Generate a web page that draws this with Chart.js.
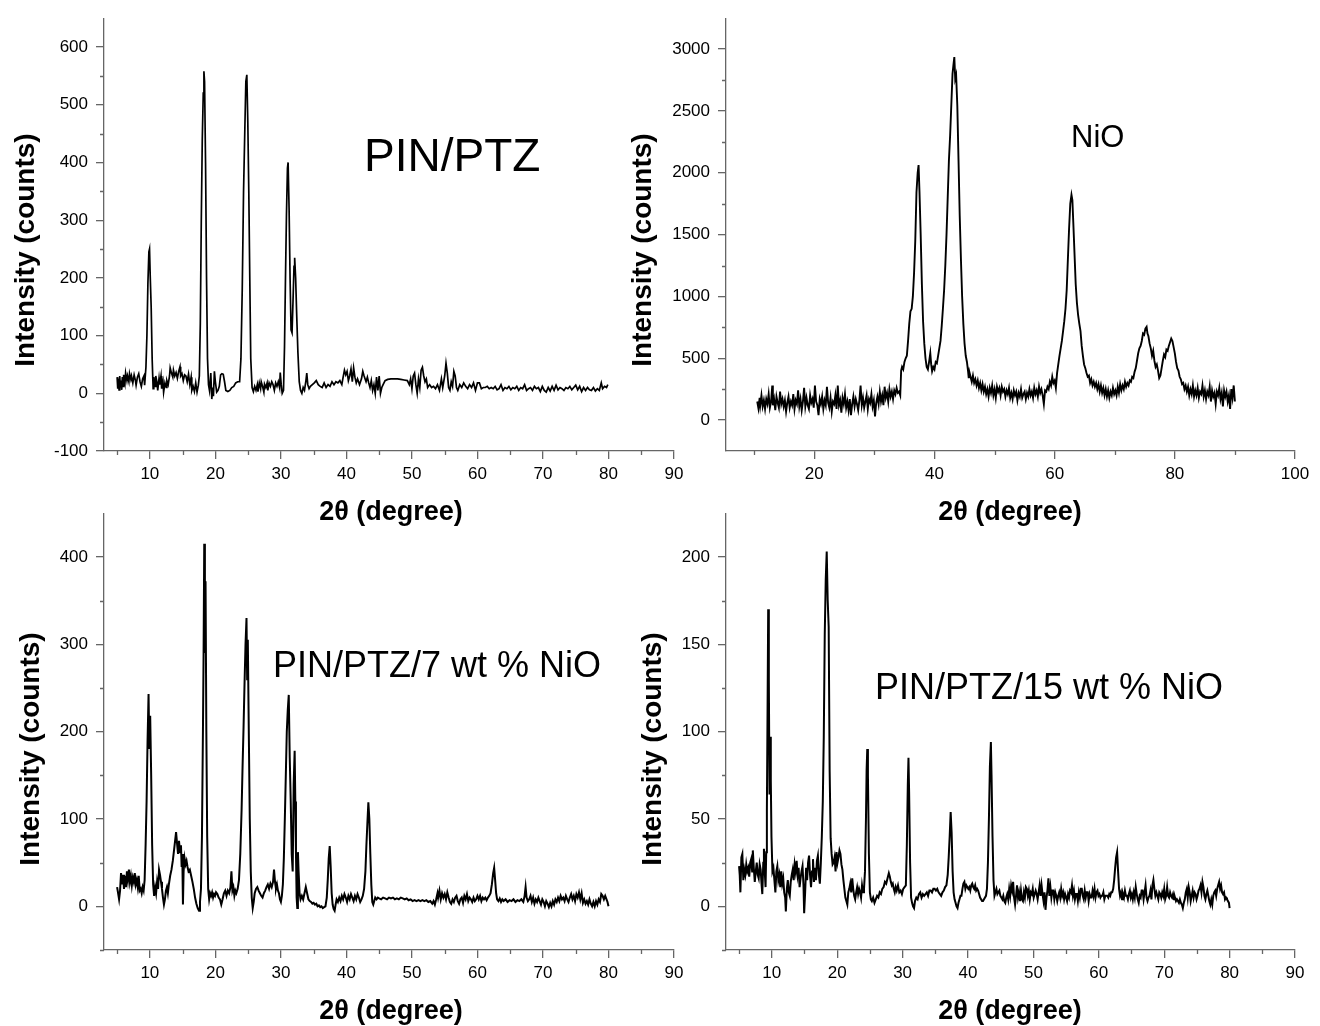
<!DOCTYPE html>
<html>
<head>
<meta charset="utf-8">
<script src="https://cdn.jsdelivr.net/npm/chart.js@4.4.0/dist/chart.umd.min.js"></script>
<style>
  html, body { margin: 0; padding: 0; background: #fff; }
  #page { position: relative; width: 1320px; height: 1026px; overflow: hidden; background: #fff; }
  #page canvas { position: absolute; }
</style>
</head>
<body>
<div id="page">
  <canvas id="c1" width="700" height="530" style="left:0px;top:0px"></canvas>
  <canvas id="c2" width="700" height="530" style="left:620px;top:0px"></canvas>
  <canvas id="c3" width="700" height="531" style="left:0px;top:495px"></canvas>
  <canvas id="c4" width="700" height="531" style="left:620px;top:495px"></canvas>
</div>
<script>
// --- scans: [2theta, counts] ---
const ptzScan = [
  [5.0,28],[5.1,8],[5.2,25],[5.3,6],[5.4,30],[5.5,10],[5.6,22],[5.7,6],[5.8,28],[5.9,12],
  [6.0,32],[6.2,18],[6.3,35],[6.5,22],[6.6,30],[6.8,20],[6.9,34],[7.1,24],[7.2,30],[7.4,18],
  [7.6,32],[7.8,22],[7.9,14],[8.1,28],[8.3,34],[8.5,20],[8.7,12],[8.9,25],[9.1,30],[9.2,14],
  [9.4,45],[9.55,100],[9.7,190],[9.85,245],[9.95,250],[10.05,205],[10.2,150],[10.35,60],[10.5,8],
  [10.6,28],[10.8,12],[10.9,30],[11.1,18],[11.2,5],[11.4,26],[11.5,15],[11.7,30],[11.8,8],[12.0,20],
  [12.1,2],[12.3,18],[12.5,10],[12.6,22],[12.8,15],[13.0,30],[13.1,44],[13.3,35],[13.5,28],[13.6,40],
  [13.8,30],[14.0,36],[14.2,26],[14.4,38],[14.6,46],[14.7,30],[14.9,34],[15.1,22],[15.3,32],[15.5,30],
  [15.7,20],[15.9,33],[16.1,15],[16.3,28],[16.4,5],[16.6,12],[16.8,3],[17.0,18],[17.2,2],[17.4,14],
  [17.55,30],[17.7,120],[17.85,300],[18.0,440],[18.15,520],[18.25,558],[18.35,540],[18.5,400],
  [18.65,200],[18.8,60],[18.95,15],[19.1,5],[19.3,35],[19.45,-10],[19.6,10],[19.7,-5],[19.85,38],
  [20.0,20],[20.2,2],[20.4,5],[20.6,12],[20.8,32],[21.0,34],[21.2,33],[21.4,20],[21.6,5],[21.9,3],
  [22.2,5],[22.5,10],[22.8,12],[23.1,18],[23.4,20],[23.7,20],[23.9,60],[24.1,180],[24.3,350],
  [24.5,460],[24.65,540],[24.8,552],[24.95,470],[25.1,350],[25.25,200],[25.4,60],[25.6,10],[25.8,3],
  [26.0,12],[26.2,5],[26.4,15],[26.5,3],[26.7,18],[26.9,8],[27.0,20],[27.2,12],[27.4,2],[27.5,16],
  [27.7,10],[27.9,18],[28.0,5],[28.2,18],[28.4,12],[28.6,20],[28.8,15],[29.0,5],[29.2,18],[29.4,12],
  [29.6,20],[29.8,10],[29.9,36],[30.05,15],[30.2,0],[30.4,5],[30.55,80],[30.7,200],[30.85,310],
  [31.0,390],[31.1,400],[31.25,320],[31.4,200],[31.55,110],[31.7,105],[31.85,160],[32.0,220],
  [32.1,235],[32.25,200],[32.4,140],[32.6,70],[32.8,20],[33.0,5],[33.2,0],[33.4,10],[33.6,5],
  [33.8,20],[33.95,35],[34.1,15],[34.3,8],[34.5,12],[34.8,15],[35.1,18],[35.4,22],[35.7,15],
  [36.0,12],[36.3,10],[36.6,18],[36.9,10],[37.2,15],[37.5,12],[37.8,20],[38.1,15],[38.4,20],
  [38.7,18],[39.0,22],[39.3,15],[39.5,28],[39.7,40],[39.9,32],[40.1,38],[40.3,22],[40.5,30],
  [40.7,42],[40.9,20],[41.1,44],[41.3,28],[41.5,18],[41.7,25],[42.0,15],[42.3,25],[42.5,38],
  [42.7,30],[43.0,20],[43.2,28],[43.4,18],[43.6,10],[43.8,22],[44.0,5],[44.2,15],[44.4,0],
  [44.6,28],[44.8,5],[45.0,30],[45.2,0],[45.4,10],[45.6,15],[45.9,22],[46.3,24],[46.8,25],
  [47.3,25],[47.8,25],[48.3,24],[48.8,23],[49.3,22],[49.6,15],[49.8,25],[50.0,8],[50.2,30],
  [50.4,35],[50.6,15],[50.8,0],[51.0,25],[51.2,10],[51.4,40],[51.6,45],[51.8,30],[52.0,20],
  [52.2,25],[52.4,10],[52.7,15],[53.0,10],[53.3,12],[53.6,8],[53.9,15],[54.2,5],[54.5,25],
  [54.7,10],[55.0,30],[55.2,52],[55.4,35],[55.6,10],[55.8,5],[56.0,20],[56.2,12],[56.4,38],
  [56.6,30],[56.8,10],[57.0,5],[57.3,15],[57.6,10],[57.9,18],[58.2,12],[58.5,8],[58.8,15],
  [59.1,10],[59.4,18],[59.7,5],[60.0,18],[60.3,18],[60.6,8],[60.9,10],[61.2,10],[61.5,12],
  [61.8,8],[62.1,10],[62.4,8],[62.7,12],[63.0,6],[63.3,8],[63.6,15],[63.9,5],[64.2,10],[64.5,8],
  [64.8,12],[65.1,6],[65.4,10],[65.7,8],[66.0,12],[66.3,5],[66.6,10],[66.9,8],[67.2,15],[67.5,5],
  [67.8,8],[68.1,10],[68.4,5],[68.7,12],[69.0,8],[69.3,10],[69.6,3],[69.9,12],[70.2,5],[70.5,2],
  [70.8,10],[71.1,4],[71.4,12],[71.7,5],[72.0,14],[72.3,6],[72.6,10],[72.9,8],[73.2,5],[73.5,10],
  [73.8,8],[74.1,12],[74.4,6],[74.7,10],[75.0,14],[75.3,6],[75.6,12],[75.9,3],[76.2,10],[76.5,5],
  [76.8,10],[77.1,6],[77.4,5],[77.7,10],[78.0,4],[78.3,8],[78.6,5],[78.9,18],[79.1,8],[79.4,12],
  [79.7,10],[79.9,15]
];

const nioScan = [
  [10.5,150],[10.7,95],[10.9,180],[11.0,120],[11.2,200],[11.4,110],[11.6,160],[11.8,90],[12.0,170],
  [12.2,130],[12.4,210],[12.6,100],[12.8,150],[13.0,280],[13.1,120],[13.3,170],[13.5,80],[13.7,190],
  [13.9,140],[14.1,100],[14.3,230],[14.5,130],[14.7,170],[14.9,110],[15.1,160],[15.3,70],[15.5,140],
  [15.7,190],[15.9,100],[16.1,150],[16.3,120],[16.5,210],[16.7,90],[16.9,160],[17.1,130],[17.3,240],
  [17.5,110],[17.7,170],[17.9,80],[18.1,150],[18.3,260],[18.5,110],[18.7,180],[18.9,120],[19.1,90],
  [19.3,200],[19.5,140],[19.7,170],[19.9,100],[20.1,280],[20.3,150],[20.5,120],[20.7,40],[20.9,170],
  [21.1,130],[21.3,190],[21.5,90],[21.7,160],[21.9,120],[22.1,270],[22.3,140],[22.5,100],[22.7,180],
  [22.9,70],[23.1,150],[23.3,130],[23.5,200],[23.7,90],[23.9,280],[24.1,120],[24.3,160],[24.5,60],
  [24.7,180],[24.9,130],[25.1,210],[25.3,100],[25.5,150],[25.7,80],[25.9,170],[26.1,40],[26.3,130],
  [26.5,190],[26.7,110],[26.9,170],[27.1,130],[27.3,80],[27.5,160],[27.7,280],[27.9,120],[28.1,180],
  [28.3,100],[28.5,150],[28.7,200],[28.9,90],[29.1,170],[29.3,140],[29.5,210],[29.7,110],[29.9,160],
  [30.1,30],[30.3,140],[30.5,190],[30.7,130],[30.9,230],[31.1,150],[31.3,200],[31.5,120],[31.7,270],
  [31.9,180],[32.1,220],[32.3,150],[32.5,250],[32.7,190],[32.9,230],[33.1,170],[33.3,240],[33.5,210],
  [33.7,260],[33.9,220],[34.1,230],[34.3,200],[34.45,400],[34.6,430],[34.8,410],[35.0,470],[35.2,500],
  [35.4,520],[35.6,640],[35.8,780],[36.0,880],[36.2,900],[36.4,1000],[36.6,1190],[36.8,1450],
  [37.0,1840],[37.2,2000],[37.35,2062],[37.5,1850],[37.7,1500],[37.9,1100],[38.1,800],[38.3,620],
  [38.5,500],[38.7,430],[38.9,410],[39.1,470],[39.3,540],[39.45,450],[39.6,395],[39.8,430],[40.0,410],
  [40.2,470],[40.4,460],[40.6,520],[40.8,580],[41.0,640],[41.2,760],[41.4,900],[41.6,1050],[41.8,1250],
  [42.0,1500],[42.2,1800],[42.4,2100],[42.6,2300],[42.8,2550],[43.0,2800],[43.15,2870],[43.3,2935],
  [43.45,2760],[43.6,2790],[43.8,2540],[44.0,2100],[44.2,1650],[44.4,1300],[44.6,1000],[44.8,780],
  [45.0,620],[45.2,520],[45.4,470],[45.6,390],[45.7,340],[45.8,390],[46.0,350],[46.2,310],[46.4,360],
  [46.6,300],[46.8,330],[47.0,280],[47.2,320],[47.4,260],[47.6,300],[47.8,240],[48.0,290],[48.2,230],
  [48.4,270],[48.6,210],[48.8,250],[49.0,190],[49.2,260],[49.4,220],[49.6,280],[49.8,200],[50.0,250],
  [50.2,180],[50.4,270],[50.6,230],[50.8,260],[51.0,200],[51.2,270],[51.4,230],[51.6,250],[51.8,190],
  [52.0,240],[52.2,210],[52.4,260],[52.6,180],[52.8,220],[53.0,170],[53.2,240],[53.4,200],[53.6,230],
  [53.8,160],[54.0,220],[54.2,190],[54.4,250],[54.6,180],[54.8,210],[55.0,230],[55.2,170],[55.4,220],
  [55.6,190],[55.8,250],[56.0,200],[56.2,230],[56.4,180],[56.6,260],[56.8,210],[57.0,240],[57.2,190],
  [57.4,270],[57.6,220],[57.8,250],[58.0,200],[58.2,130],[58.4,240],[58.6,230],[58.8,270],[59.0,250],
  [59.2,310],[59.4,280],[59.6,350],[59.8,300],[60.0,320],[60.2,260],[60.4,380],[60.6,450],[60.8,520],
  [61.0,580],[61.2,640],[61.4,720],[61.6,800],[61.8,900],[62.0,1050],[62.2,1300],[62.4,1550],
  [62.6,1750],[62.8,1822],[62.95,1780],[63.1,1600],[63.3,1350],[63.5,1100],[63.7,950],[63.9,850],
  [64.1,780],[64.3,720],[64.5,600],[64.7,520],[64.9,450],[65.1,420],[65.3,380],[65.5,350],[65.7,360],
  [65.9,300],[66.1,330],[66.3,280],[66.5,310],[66.7,270],[66.9,300],[67.1,250],[67.3,290],[67.5,230],
  [67.7,280],[67.9,220],[68.1,260],[68.3,200],[68.5,250],[68.7,190],[68.9,240],[69.1,180],[69.3,230],
  [69.5,200],[69.7,260],[69.9,210],[70.1,240],[70.3,200],[70.5,270],[70.7,220],[70.9,290],[71.1,240],
  [71.3,280],[71.5,250],[71.7,310],[71.9,270],[72.1,300],[72.3,280],[72.5,320],[72.7,310],[72.9,350],
  [73.1,340],[73.3,390],[73.5,420],[73.7,480],[73.9,540],[74.1,580],[74.3,600],[74.5,640],[74.7,700],
  [74.9,690],[75.1,740],[75.3,754],[75.45,700],[75.6,680],[75.8,620],[76.0,580],[76.2,520],[76.4,560],
  [76.6,480],[76.8,430],[77.0,450],[77.2,400],[77.4,340],[77.6,360],[77.8,420],[78.0,480],[78.2,530],
  [78.4,510],[78.6,570],[78.8,560],[79.0,600],[79.2,630],[79.4,660],[79.6,640],[79.8,590],[80.0,540],
  [80.2,470],[80.4,420],[80.6,400],[80.8,350],[81.0,330],[81.2,290],[81.4,300],[81.6,250],[81.8,280],
  [82.0,230],[82.2,270],[82.4,200],[82.6,250],[82.8,210],[83.0,280],[83.2,190],[83.4,240],[83.6,200],
  [83.8,260],[84.0,180],[84.2,230],[84.4,210],[84.6,280],[84.8,190],[85.0,240],[85.2,170],[85.4,230],
  [85.6,200],[85.8,270],[86.0,150],[86.2,240],[86.4,190],[86.6,220],[86.8,130],[87.0,230],[87.2,200],
  [87.4,260],[87.6,170],[87.8,220],[88.0,110],[88.2,240],[88.4,190],[88.6,230],[88.8,150],[89.0,200],
  [89.2,90],[89.4,250],[89.6,180],[89.8,280],[90.0,150]
];

const nio7Scan = [
  [5.0,22],[5.15,15],[5.3,8],[5.45,18],[5.6,38],[5.75,25],[5.9,36],[6.05,20],[6.2,35],[6.35,22],
  [6.5,40],[6.65,30],[6.8,42],[6.95,28],[7.1,35],[7.25,24],[7.4,33],[7.55,28],[7.7,38],[7.85,25],
  [8.0,30],[8.15,22],[8.3,35],[8.45,18],[8.6,20],[8.75,15],[8.9,22],[9.05,18],[9.2,30],[9.35,70],
  [9.5,120],[9.65,190],[9.8,243],[9.92,180],[10.05,218],[10.2,150],[10.35,70],[10.5,25],[10.65,12],
  [10.8,22],[10.95,15],[11.1,28],[11.25,20],[11.4,42],[11.55,36],[11.7,28],[11.85,20],[12.0,10],
  [12.15,2],[12.3,8],[12.45,18],[12.6,22],[12.75,15],[12.9,25],[13.1,35],[13.3,42],[13.5,52],
  [13.7,65],[13.85,75],[14.0,85],[14.15,72],[14.3,60],[14.45,75],[14.6,62],[14.75,70],[14.85,45],
  [14.95,60],[15.05,2],[15.15,40],[15.3,55],[15.45,48],[15.6,52],[15.75,45],[15.9,40],[16.1,42],
  [16.3,35],[16.5,28],[16.7,20],[16.9,10],[17.1,3],[17.3,-2],[17.5,-5],[17.65,5],[17.8,20],[17.95,80],
  [18.1,200],[18.2,290],[18.3,415],[18.4,290],[18.5,372],[18.62,200],[18.75,80],[18.9,20],[19.05,8],
  [19.2,15],[19.35,12],[19.5,16],[19.65,10],[19.8,14],[19.95,12],[20.1,16],[20.3,14],[20.5,10],
  [20.7,8],[20.9,2],[21.1,8],[21.3,15],[21.5,18],[21.7,12],[21.9,18],[22.1,15],[22.3,22],[22.45,40],
  [22.6,18],[22.75,22],[22.9,12],[23.05,18],[23.2,15],[23.4,20],[23.6,30],[23.8,60],[24.0,110],
  [24.15,160],[24.3,205],[24.45,255],[24.6,300],[24.75,330],[24.85,260],[24.95,305],[25.1,200],
  [25.25,100],[25.4,40],[25.55,10],[25.7,-2],[25.85,5],[26.0,15],[26.2,20],[26.4,22],[26.6,18],
  [26.8,15],[27.0,12],[27.2,10],[27.4,15],[27.6,18],[27.8,22],[28.0,25],[28.2,20],[28.4,26],[28.6,22],
  [28.8,28],[28.95,42],[29.1,28],[29.25,20],[29.4,25],[29.55,18],[29.7,15],[29.85,8],[30.0,5],
  [30.15,12],[30.3,25],[30.45,55],[30.6,100],[30.75,150],[30.9,200],[31.05,225],[31.2,242],[31.35,170],
  [31.5,120],[31.65,60],[31.8,40],[31.95,140],[32.1,178],[32.2,120],[32.3,60],[32.4,10],[32.5,-2],
  [32.6,62],[32.7,40],[32.85,15],[33.0,8],[33.2,12],[33.4,8],[33.6,15],[33.8,22],[34.0,15],[34.2,8],
  [34.4,6],[34.6,5],[34.8,3],[35.0,4],[35.2,2],[35.4,3],[35.6,0],[35.8,1],[36.0,-1],[36.2,0],
  [36.4,-2],[36.6,-1],[36.8,0],[37.0,10],[37.15,30],[37.3,55],[37.45,69],[37.6,45],[37.75,15],
  [37.9,2],[38.05,-3],[38.2,-5],[38.35,2],[38.5,8],[38.7,5],[38.9,10],[39.1,6],[39.3,12],[39.5,8],
  [39.7,14],[39.9,10],[40.1,5],[40.3,12],[40.5,8],[40.7,14],[40.9,10],[41.1,6],[41.3,12],[41.5,8],
  [41.7,14],[41.9,10],[42.1,5],[42.3,8],[42.5,12],[42.7,20],[42.9,40],[43.05,70],[43.2,95],
  [43.35,119],[43.5,100],[43.65,60],[43.8,25],[43.95,5],[44.1,2],[44.25,6],[44.4,10],[44.6,8],
  [44.8,10],[45.0,9],[45.3,8],[45.6,10],[45.9,9],[46.2,8],[46.5,10],[46.8,9],[47.1,10],[47.4,8],
  [47.7,9],[48.0,8],[48.3,10],[48.6,9],[48.9,8],[49.2,9],[49.5,7],[49.8,8],[50.1,6],[50.4,7],
  [50.7,6],[51.0,7],[51.3,6],[51.6,7],[51.9,6],[52.2,7],[52.5,5],[52.8,6],[53.1,3],[53.3,6],
  [53.5,2],[53.7,8],[53.9,15],[54.0,10],[54.2,18],[54.4,8],[54.6,15],[54.8,10],[55.0,14],[55.2,8],
  [55.4,16],[55.6,10],[55.8,5],[56.0,3],[56.2,8],[56.4,5],[56.6,10],[56.8,12],[57.0,6],[57.2,3],
  [57.4,8],[57.6,10],[57.8,4],[58.0,12],[58.2,8],[58.4,14],[58.6,6],[58.8,10],[59.0,8],[59.2,5],
  [59.4,10],[59.6,6],[59.8,8],[60.0,12],[60.2,8],[60.4,12],[60.6,6],[60.8,10],[61.0,8],[61.2,10],
  [61.4,7],[61.6,10],[61.8,12],[62.0,15],[62.2,25],[62.4,38],[62.55,44],[62.7,30],[62.85,15],
  [63.0,8],[63.2,6],[63.4,9],[63.6,5],[63.8,8],[64.0,6],[64.3,8],[64.6,5],[64.9,7],[65.2,6],
  [65.5,8],[65.8,5],[66.1,7],[66.4,6],[66.7,8],[67.0,5],[67.2,12],[67.35,22],[67.5,10],[67.7,6],
  [67.9,8],[68.1,12],[68.3,5],[68.5,10],[68.7,3],[68.9,8],[69.1,5],[69.3,10],[69.5,6],[69.7,2],
  [69.9,8],[70.1,5],[70.3,0],[70.5,6],[70.7,3],[70.9,-1],[71.1,4],[71.3,0],[71.5,6],[71.7,2],
  [71.9,8],[72.1,5],[72.3,10],[72.5,6],[72.7,12],[72.9,8],[73.1,10],[73.3,6],[73.5,12],[73.7,8],
  [73.9,5],[74.1,10],[74.3,14],[74.5,8],[74.7,12],[74.9,6],[75.1,14],[75.3,10],[75.5,16],[75.7,8],
  [75.9,15],[76.1,4],[76.3,8],[76.5,3],[76.7,6],[76.9,2],[77.1,8],[77.3,3],[77.5,0],[77.7,5],
  [77.9,0],[78.1,6],[78.3,2],[78.5,8],[78.7,5],[78.9,14],[79.1,12],[79.3,8],[79.5,12],[79.7,8],
  [79.85,5],[80.0,0]
];

const nio15Scan = [
  [5.0,23],[5.1,18],[5.2,8],[5.35,28],[5.5,30],[5.65,15],[5.8,21],[5.95,18],[6.1,24],[6.25,20],
  [6.4,22],[6.55,17],[6.7,25],[6.85,27],[7.0,20],[7.1,32],[7.25,22],[7.4,14],[7.55,20],[7.7,25],
  [7.85,18],[8.0,16],[8.15,24],[8.3,21],[8.45,12],[8.55,7],[8.7,25],[8.8,33],[8.95,18],[9.05,11],
  [9.15,31],[9.25,55],[9.35,110],[9.45,170],[9.55,130],[9.65,64],[9.75,97],[9.85,72],[9.95,40],
  [10.1,20],[10.25,22],[10.4,15],[10.55,8],[10.7,20],[10.85,23],[11.0,15],[11.15,18],[11.3,11],
  [11.45,20],[11.6,13],[11.75,16],[11.9,8],[12.05,5],[12.15,-3],[12.3,10],[12.45,15],[12.6,8],
  [12.75,6],[12.9,14],[13.05,18],[13.2,21],[13.35,15],[13.5,24],[13.65,20],[13.8,26],[13.95,18],
  [14.1,22],[14.25,11],[14.4,16],[14.55,20],[14.7,23],[14.85,12],[14.95,-4],[15.1,8],[15.25,22],
  [15.4,15],[15.55,25],[15.7,29],[15.85,18],[16.0,11],[16.15,20],[16.3,27],[16.45,14],[16.6,22],
  [16.75,15],[16.9,26],[17.05,29],[17.2,18],[17.35,13],[17.5,25],[17.65,40],[17.8,60],[17.95,97],
  [18.1,156],[18.25,187],[18.4,203],[18.55,175],[18.7,160],[18.85,77],[19.0,39],[19.15,30],
  [19.3,24],[19.45,25],[19.6,28],[19.75,20],[19.9,31],[20.05,25],[20.2,28],[20.35,32],[20.5,30],
  [20.65,24],[20.8,21],[20.95,15],[21.1,10],[21.25,5],[21.4,3],[21.55,1],[21.7,8],[21.85,10],
  [22.0,13],[22.15,8],[22.3,16],[22.45,10],[22.6,6],[22.75,4],[22.9,8],[23.05,11],[23.2,7],
  [23.35,10],[23.5,8],[23.65,5],[23.8,12],[23.95,8],[24.1,10],[24.25,20],[24.4,50],[24.5,78],
  [24.6,90],[24.7,75],[24.85,30],[25.0,8],[25.15,4],[25.3,3],[25.5,5],[25.7,2],[25.9,4],[26.1,6],
  [26.3,5],[26.5,8],[26.7,7],[26.9,10],[27.1,11],[27.3,14],[27.5,13],[27.7,16],[27.9,19],[28.05,17],
  [28.2,14],[28.35,12],[28.5,13],[28.65,10],[28.8,8],[28.95,11],[29.1,9],[29.3,12],[29.5,8],[29.7,9],
  [29.9,7],[30.1,10],[30.3,11],[30.5,12],[30.65,35],[30.8,70],[30.9,85],[31.0,65],[31.15,25],
  [31.3,5],[31.45,2],[31.6,0],[31.75,-1],[31.9,3],[32.1,5],[32.3,4],[32.5,7],[32.7,8],[32.9,5],
  [33.1,7],[33.3,6],[33.5,7],[33.7,8],[33.9,6],[34.1,9],[34.3,9],[34.5,8],[34.7,10],[34.9,10],
  [35.1,9],[35.3,10],[35.5,8],[35.7,7],[35.9,6],[36.1,8],[36.3,9],[36.5,11],[36.7,12],[36.9,18],
  [37.05,28],[37.2,40],[37.35,54],[37.5,42],[37.65,20],[37.8,8],[37.95,4],[38.1,2],[38.25,0],
  [38.4,-1],[38.55,2],[38.7,4],[38.85,6],[39.0,6],[39.15,10],[39.3,13],[39.45,14],[39.6,10],
  [39.75,12],[39.9,11],[40.05,10],[40.2,11],[40.35,9],[40.5,12],[40.65,13],[40.8,11],[40.95,10],
  [41.1,12],[41.25,9],[41.4,10],[41.55,9],[41.7,7],[41.85,5],[42.0,4],[42.15,3],[42.3,3],[42.45,4],
  [42.6,4],[42.75,6],[42.9,10],[43.05,25],[43.2,50],[43.35,80],[43.5,94],[43.6,75],[43.75,40],
  [43.9,15],[44.05,6],[44.2,8],[44.35,10],[44.5,7],[44.65,8],[44.8,9],[44.95,6],[45.1,5],[45.25,4],
  [45.4,6],[45.55,3],[45.7,2],[45.85,5],[46.0,7],[46.15,4],[46.3,10],[46.45,6],[46.6,12],[46.75,9],
  [46.9,14],[47.05,5],[47.2,1],[47.35,6],[47.5,12],[47.65,5],[47.8,8],[47.95,3],[48.1,9],[48.25,4],
  [48.4,3],[48.55,8],[48.7,5],[48.85,11],[49.0,10],[49.15,6],[49.3,9],[49.45,4],[49.6,8],[49.75,7],
  [49.9,10],[50.05,5],[50.2,7],[50.35,9],[50.5,7],[50.65,4],[50.8,8],[50.95,12],[51.1,6],[51.25,12],
  [51.4,7],[51.55,3],[51.7,8],[51.85,-2],[52.0,5],[52.15,9],[52.3,16],[52.45,6],[52.6,11],[52.75,5],
  [52.9,9],[53.05,9],[53.2,4],[53.35,8],[53.5,6],[53.65,3],[53.8,6],[53.95,8],[54.1,5],[54.25,10],
  [54.4,6],[54.55,8],[54.7,4],[54.85,7],[55.0,5],[55.15,3],[55.3,7],[55.45,5],[55.6,9],[55.75,8],
  [55.9,12],[56.05,6],[56.2,9],[56.35,4],[56.5,7],[56.65,7],[56.8,3],[56.95,8],[57.1,5],[57.25,10],
  [57.4,10],[57.55,6],[57.7,4],[57.85,9],[58.0,5],[58.15,8],[58.3,8],[58.45,3],[58.6,7],[58.75,5],
  [58.9,5],[59.05,9],[59.2,6],[59.35,10],[59.5,5],[59.65,8],[59.8,9],[59.95,6],[60.1,7],[60.25,5],
  [60.4,6],[60.55,6],[60.7,8],[60.85,4],[61.0,6],[61.15,6],[61.3,6],[61.45,5],[61.6,7],[61.75,6],
  [61.9,8],[62.05,8],[62.2,10],[62.35,15],[62.5,22],[62.65,28],[62.8,31],[62.95,20],[63.1,10],
  [63.25,6],[63.4,8],[63.55,4],[63.7,7],[63.85,5],[64.0,9],[64.15,6],[64.3,6],[64.45,4],[64.6,7],
  [64.75,9],[64.9,5],[65.05,7],[65.2,4],[65.35,8],[65.5,5],[65.65,11],[65.8,7],[65.95,4],[66.1,2],
  [66.25,6],[66.4,5],[66.55,9],[66.7,9],[66.85,4],[67.0,8],[67.15,12],[67.3,5],[67.45,3],[67.6,5],
  [67.75,6],[67.9,9],[68.05,4],[68.2,12],[68.35,15],[68.5,10],[68.65,6],[68.8,8],[68.95,6],[69.1,4],
  [69.25,8],[69.4,7],[69.55,5],[69.7,8],[69.85,6],[70.0,10],[70.15,4],[70.3,6],[70.45,11],[70.6,6],
  [70.75,5],[70.9,8],[71.05,6],[71.2,5],[71.35,7],[71.5,4],[71.65,5],[71.8,3],[71.95,4],[72.1,3],
  [72.25,2],[72.4,4],[72.55,2],[72.7,1],[72.85,-1],[73.0,2],[73.15,4],[73.3,8],[73.45,10],[73.6,5],
  [73.75,11],[73.9,8],[74.05,3],[74.2,6],[74.35,9],[74.5,5],[74.65,8],[74.8,7],[74.95,4],[75.1,6],
  [75.25,9],[75.4,10],[75.55,12],[75.7,8],[75.85,14],[76.0,11],[76.15,6],[76.3,4],[76.45,7],
  [76.6,9],[76.75,6],[76.9,3],[77.05,1],[77.2,4],[77.35,1],[77.5,6],[77.65,8],[77.8,9],[77.95,6],
  [78.1,10],[78.25,12],[78.4,14],[78.55,10],[78.7,12],[78.85,8],[79.0,7],[79.15,8],[79.3,4],
  [79.45,5],[79.6,4],[79.75,3],[79.9,2],[80.0,-1]
];

// tick values
const angleTicks = [10, 20, 30, 40, 50, 60, 70, 80, 90];
const angleMinor = [5, 15, 25, 35, 45, 55, 65, 75, 85];
const nioAngleTicks = [20, 40, 60, 80, 100];
const nioAngleMinor = [10, 30, 50, 70, 90];
const ptzCountTicks = [-100, 0, 100, 200, 300, 400, 500, 600];
const ptzCountMinor = [-50, 50, 150, 250, 350, 450, 550];
const nioCountTicks = [0, 500, 1000, 1500, 2000, 2500, 3000];
const nioCountMinor = [250, 750, 1250, 1750, 2250, 2750];
const nio7CountTicks = [0, 100, 200, 300, 400];
const nio7CountMinor = [-50, 50, 150, 250, 350];
const nio15CountTicks = [0, 50, 100, 150, 200];
const nio15CountMinor = [-25, 25, 75, 125, 175];

const labelFont = "'Liberation Sans', Arial, Helvetica, sans-serif";
const axisColor = '#666';
Chart.defaults.font.family = labelFont;

// minor ticks + titles + panel name, positions in page pixels
function panelDeco(p) {
  return {
    id: 'panelDeco',
    afterDraw(chart) {
      const ctx = chart.ctx;
      const area = chart.chartArea;
      const xs = chart.scales.x, ys = chart.scales.y;
      ctx.save();
      ctx.strokeStyle = axisColor;
      ctx.lineWidth = 1.3;
      ctx.beginPath();
      p.xMinor.forEach(v => {
        const px = Math.round(xs.getPixelForValue(v)) + 0.5;
        ctx.moveTo(px, area.bottom);
        ctx.lineTo(px, area.bottom + 4);
      });
      p.yMinor.forEach(v => {
        const py = Math.round(ys.getPixelForValue(v)) + 0.5;
        ctx.moveTo(area.left, py);
        ctx.lineTo(area.left - 4, py);
      });
      ctx.stroke();

      ctx.fillStyle = '#000';
      ctx.textAlign = 'center';
      ctx.textBaseline = 'middle';
      ctx.font = 'bold 28px ' + labelFont;
      ctx.save();
      ctx.translate(p.yTitle[0] - p.left, p.yTitle[1] - p.top);
      ctx.rotate(-Math.PI / 2);
      ctx.fillText('Intensity (counts)', 0, 0);
      ctx.restore();
      ctx.font = 'bold 27px ' + labelFont;
      ctx.fillText('2θ (degree)', p.xTitle[0] - p.left, p.xTitle[1] - p.top);

      ctx.textAlign = 'left';
      ctx.textBaseline = 'alphabetic';
      ctx.font = p.nameSize + 'px ' + labelFont;
      ctx.fillText(p.name, p.namePos[0] - p.left, p.namePos[1] - p.top);
      ctx.restore();
    }
  };
}

function makePanel(p) {
  const canvas = document.getElementById(p.id);
  new Chart(canvas, {
    type: 'line',
    data: {
      datasets: [{
        data: p.scan.map(d => ({ x: d[0], y: d[1] })),
        borderColor: '#000',
        borderWidth: p.lineWidth,
        pointRadius: 0,
        tension: 0,
        fill: false
      }]
    },
    options: {
      responsive: false,
      animation: false,
      events: [],
      layout: { padding: { left: 0, top: p.plotTop - p.top, right: p.left + 700 - p.plotRight, bottom: 0 } },
      plugins: { legend: { display: false }, tooltip: { enabled: false } },
      scales: {
        x: {
          type: 'linear',
          min: p.xMin,
          max: p.xMax,
          afterBuildTicks: s => { s.ticks = p.xTicks.map(v => ({ value: v })); },
          afterFit: s => { s.height = p.top + canvas.height - p.plotBottom; },
          ticks: { autoSkip: false, maxRotation: 0, padding: 5, color: '#000', font: { size: 17 }, callback: v => String(v) },
          grid: { drawOnChartArea: false, drawTicks: true, tickLength: 8, color: axisColor, lineWidth: 1.3 },
          border: { display: true, color: axisColor, width: 1.3 }
        },
        y: {
          type: 'linear',
          min: p.yMin,
          max: p.yMax,
          afterBuildTicks: s => { s.ticks = p.yTicks.map(v => ({ value: v })); },
          afterFit: s => { s.width = p.plotLeft - p.left; },
          ticks: { autoSkip: false, padding: 8, color: '#000', font: { size: 17 }, callback: v => String(v) },
          grid: { drawOnChartArea: false, drawTicks: true, tickLength: 8, color: axisColor, lineWidth: 1.3 },
          border: { display: true, color: axisColor, width: 1.3 }
        }
      }
    },
    plugins: [panelDeco(p)]
  });
}

makePanel({
  id: 'c1', left: 0, top: 0, plotLeft: 104, plotTop: 13, plotRight: 674, plotBottom: 451,
  scan: ptzScan, lineWidth: 1.7, xMin: 3, xMax: 90, yMin: -100, yMax: 650,
  xTicks: angleTicks, xMinor: angleMinor, yTicks: ptzCountTicks, yMinor: ptzCountMinor,
  yTitle: [26, 250], xTitle: [391, 513], name: 'PIN/PTZ', nameSize: 46, namePos: [364, 171]
});
makePanel({
  id: 'c2', left: 620, top: 0, plotLeft: 726, plotTop: 13, plotRight: 1295, plotBottom: 451,
  scan: nioScan, lineWidth: 1.9, xMin: 5.3, xMax: 100, yMin: -250, yMax: 3250,
  xTicks: nioAngleTicks, xMinor: nioAngleMinor, yTicks: nioCountTicks, yMinor: nioCountMinor,
  yTitle: [643, 250], xTitle: [1010, 513], name: 'NiO', nameSize: 31, namePos: [1071, 147]
});
makePanel({
  id: 'c3', left: 0, top: 495, plotLeft: 104, plotTop: 507, plotRight: 674, plotBottom: 950,
  scan: nio7Scan, lineWidth: 2, xMin: 3, xMax: 90, yMin: -50, yMax: 450,
  xTicks: angleTicks, xMinor: angleMinor, yTicks: nio7CountTicks, yMinor: nio7CountMinor,
  yTitle: [31, 749], xTitle: [391, 1012], name: 'PIN/PTZ/7 wt % NiO', nameSize: 36, namePos: [273, 677]
});
makePanel({
  id: 'c4', left: 620, top: 495, plotLeft: 726, plotTop: 507, plotRight: 1295, plotBottom: 950,
  scan: nio15Scan, lineWidth: 2, xMin: 3, xMax: 90, yMin: -25, yMax: 225,
  xTicks: angleTicks, xMinor: angleMinor, yTicks: nio15CountTicks, yMinor: nio15CountMinor,
  yTitle: [653, 749], xTitle: [1010, 1012], name: 'PIN/PTZ/15 wt % NiO', nameSize: 36, namePos: [875, 699]
});
</script>
</body>
</html>
